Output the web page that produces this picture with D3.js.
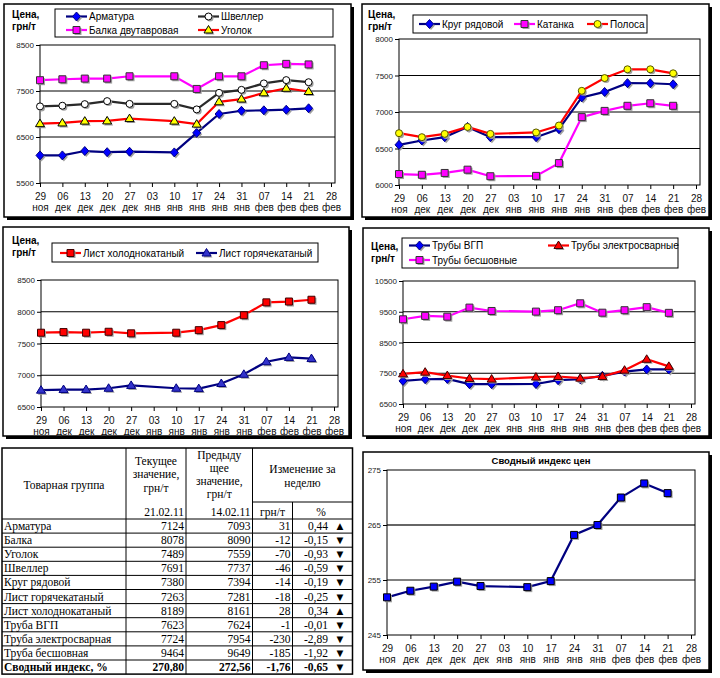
<!DOCTYPE html>
<html>
<head>
<meta charset="utf-8">
<script src="https://cdn.jsdelivr.net/npm/d3@7"></script>
<style>
body { margin: 0; background: #fff; }
text { font-family: "Liberation Sans", Arial, sans-serif; }
</style>
</head>
<body>
<div id="vis"></div>
<script>
var w = 720;
var h = 678;

// подписи оси X (даты, с шагом неделя)
var days = ["29", "06", "13", "20", "27", "03", "10", "17", "24", "31", "07", "14", "21", "28"];
var months = ["ноя", "дек", "дек", "дек", "дек", "янв", "янв", "янв", "янв", "янв", "фев", "фев", "фев", "фев"];

// цены, грн/т (03 янв - нет данных)
var armatura = [6100, 6100, 6195, 6170, 6180, null, 6165, 6590, 7000, 7070, 7080, 7093, 7124];
var shveller = [7165, 7180, 7215, 7280, 7220, null, 7220, 7100, 7460, 7525, 7665, 7737, 7691];
var balka = [7735, 7755, 7770, 7770, 7820, null, 7820, 7545, 7820, 7820, 8060, 8090, 8078];
var ugolok = [6790, 6805, 6845, 6850, 6900, null, 6845, 6780, 7265, 7325, 7460, 7559, 7489];

var krug = [6550, 6610, 6655, 6795, 6655, null, 6655, 6765, 7200, 7275, 7395, 7394, 7380];
var katanka = [6150, 6140, 6165, 6210, 6120, null, 6125, 6300, 6930, 7015, 7085, 7120, 7085];
var polosa = [6710, 6655, 6700, 6795, 6700, null, 6720, 6815, 7290, 7465, 7585, 7585, 7530];

var listHolod = [7670, 7680, 7670, 7685, 7660, null, 7670, 7710, 7790, 7945, 8148, 8161, 8189];
var listGor = [6765, 6775, 6775, 6795, 6840, null, 6795, 6790, 6870, 7015, 7213, 7281, 7263];

var trubyVgp = [7250, 7305, 7315, 7145, 7145, null, 7150, 7275, 7305, 7415, 7555, 7624, 7623];
var trubyEl = [7480, 7535, 7425, 7330, 7310, null, 7375, 7395, 7340, 7395, 7600, 7954, 7724];
var trubyBesh = [9255, 9365, 9340, 9635, 9525, null, 9505, 9550, 9775, 9470, 9550, 9649, 9464];

var indexVals = [251.85, 253.05, 253.8, 254.7, 253.9, null, 253.7, 254.8, 263.2, 265.0, 270.0, 272.56, 270.80];

// таблица
var products = ["Арматура", "Балка", "Уголок", "Швеллер", "Круг рядовой", "Лист горячекатаный", "Лист холоднокатаный", "Труба ВГП", "Труба электросварная", "Труба бесшовная", "Сводный индекс, %"];
var currentVals = ["7124", "8078", "7489", "7691", "7380", "7263", "8189", "7623", "7724", "9464", "270,80"];
var previousVals = ["7093", "8090", "7559", "7737", "7394", "7281", "8161", "7624", "7954", "9649", "272,56"];
var diffAbs = ["31", "-12", "-70", "-46", "-14", "-18", "28", "-1", "-230", "-185", "-1,76"];
var diffPct = ["0,44", "-0,15", "-0,93", "-0,59", "-0,19", "-0,25", "0,34", "-0,01", "-2,89", "-1,92", "-0,65"];

var svg = d3.select("#vis")
    .append("svg")
    .attr("width", w)
    .attr("height", h);

var navy = "#000080", blue = "#0000FF", red = "#FF0000", magenta = "#FF00FF", yellow = "#FFFF00";

//рамка с тенью
function frame(x1, y1, x2, y2) {
	svg.append("rect")
		.attr("x", x1 + 3).attr("y", y1 + 3)
		.attr("width", x2 - x1).attr("height", y2 - y1)
		.attr("fill", "black");
	svg.append("rect")
		.attr("x", x1).attr("y", y1)
		.attr("width", x2 - x1).attr("height", y2 - y1)
		.attr("fill", "white")
		.attr("stroke", "black")
		.attr("stroke-width", 1.5);
}

function markerPath(type, x, y) {
	var s = 4;
	switch (type) {
		case "diamond":
			return "M" + x + "," + (y - s - 0.5) + "L" + (x + s) + "," + y + "L" + x + "," + (y + s + 0.5) + "L" + (x - s) + "," + y + "Z";
		case "square":
			return "M" + (x - 3.5) + "," + (y - 3.5) + "h7v7h-7Z";
		case "triangle":
			return "M" + x + "," + (y - 4.5) + "L" + (x + 4.5) + "," + (y + 3) + "L" + (x - 4.5) + "," + (y + 3) + "Z";
		case "circle":
			return "M" + (x - 3.5) + "," + y + "a3.5,3.5 0 1,0 7,0a3.5,3.5 0 1,0 -7,0Z";
	}
}

function marker(g, s, x, y) {
	g.append("path")
		.attr("d", markerPath(s.marker, x + 1.5, y + 1.5))
		.attr("fill", "#a0a0a0");
	g.append("path")
		.attr("d", markerPath(s.marker, x, y))
		.attr("fill", s.fill)
		.attr("stroke", s.stroke)
		.attr("stroke-width", 1);
}

function label(g, x, y, lines) {
	lines.forEach(function(t, i) {
		g.append("text")
			.text(t)
			.attr("x", x)
			.attr("y", y + i * 12)
			.style("font-size", "10px")
			.style("font-weight", "bold");
	});
}

function chart(cfg) {
	var g = svg.append("g");
	var x = d3.scaleLinear().domain([0, 13]).range([cfg.left, cfg.right - 4]);
	var y = d3.scaleLinear().domain(cfg.ydomain).range([cfg.bottom, cfg.top]);

	//Hulplijnen
	g.selectAll(".grid")
		.data(cfg.grid)
		.enter()
		.append("line")
		.attr("x1", cfg.left)
		.attr("x2", cfg.right)
		.attr("y1", function(d) { return y(d); })
		.attr("y2", function(d) { return y(d); })
		.attr("stroke", function(d) { return cfg.gridColor ? cfg.gridColor(d) : "black"; })
		.attr("stroke-width", function(d) { return cfg.gridWidth ? cfg.gridWidth(d) : 1; });

	g.append("rect")
		.attr("x", cfg.left).attr("y", cfg.top)
		.attr("width", cfg.right - cfg.left).attr("height", cfg.bottom - cfg.top)
		.attr("fill", "none")
		.attr("stroke", "black")
		.attr("stroke-width", 1);

	var yaxis = g.append("g")
		.attr("transform", "translate(" + cfg.left + ",0)")
		.call(d3.axisLeft(y).tickValues(cfg.yticks).tickSize(4).tickPadding(2).tickFormat(d3.format("d")));
	yaxis.select(".domain").remove();
	yaxis.selectAll("text").style("font-size", "8px").attr("fill", "#222");

	var xaxis = g.append("g")
		.attr("transform", "translate(0," + cfg.bottom + ")")
		.call(d3.axisBottom(x).tickValues(d3.range(14)).tickSize(4).tickFormat(function(i) { return days[i]; }));
	xaxis.select(".domain").remove();
	xaxis.selectAll(".tick text")
		.attr("y", 16.5).attr("dy", null)
		.style("font-size", "10px").attr("fill", "#111");
	xaxis.selectAll(".tick")
		.append("text")
		.text(function(i) { return months[i]; })
		.attr("y", 28)
		.attr("fill", "#111")
		.style("font-size", "10px");

	cfg.series.forEach(function(s) {
		var pts = s.values
			.map(function(v, i) { return {i: i, v: v}; })
			.filter(function(d) { return d.v != null; });
		g.append("path")
			.datum(pts)
			.attr("d", d3.line().x(function(d) { return x(d.i); }).y(function(d) { return y(d.v); }))
			.attr("fill", "none")
			.attr("stroke", s.line)
			.attr("stroke-width", 2.2);
		pts.forEach(function(d) { marker(g, s, x(d.i), y(d.v)); });
	});

	if (cfg.legend) {
		var b = cfg.legend.box;
		g.append("rect")
			.attr("x", b[0]).attr("y", b[1])
			.attr("width", b[2] - b[0]).attr("height", b[3] - b[1])
			.attr("fill", "white")
			.attr("stroke", "black")
			.attr("stroke-width", 1);
		cfg.legend.items.forEach(function(it, k) {
			var s = cfg.series[it[0]];
			g.append("line")
				.attr("x1", it[1]).attr("x2", it[1] + 21)
				.attr("y1", it[2]).attr("y2", it[2])
				.attr("stroke", s.line)
				.attr("stroke-width", 2.2);
			marker(g, s, it[1] + 10.5, it[2]);
			g.append("text")
				.text(s.name)
				.attr("x", it[1] + 23)
				.attr("y", it[2] + 3.5)
				.style("font-size", "10px");
		});
	}
	if (cfg.ylabel) label(g, cfg.ylabel[0], cfg.ylabel[1], ["Цена,", "грн/т"]);
	if (cfg.title) {
		g.append("text")
			.text(cfg.title)
			.attr("x", (cfg.left + cfg.right) / 2)
			.attr("y", cfg.titleY)
			.attr("text-anchor", "middle")
			.style("font-size", "9.5px")
			.style("font-weight", "bold");
	}
}

// панель 1
frame(4, 4, 351, 217);
chart({
	left: 40, right: 335, top: 45, bottom: 183,
	ydomain: [5500, 8500], yticks: [5500, 6500, 7500, 8500], grid: [6500, 7500],
	ylabel: [12, 18],
	series: [
		{name: "Арматура", values: armatura, line: navy, marker: "diamond", fill: blue, stroke: navy},
		{name: "Швеллер", values: shveller, line: "#2a2a2a", marker: "circle", fill: "white", stroke: "black"},
		{name: "Балка двутавровая", values: balka, line: magenta, marker: "square", fill: magenta, stroke: "#333"},
		{name: "Уголок", values: ugolok, line: red, marker: "triangle", fill: yellow, stroke: "black"}
	],
	legend: {box: [55, 9, 333, 37], items: [[0, 66, 16.5], [1, 198, 16.5], [2, 66, 30], [3, 198, 30]]}
});

// панель 2
frame(362, 4, 709, 217);
chart({
	left: 399, right: 700, top: 39, bottom: 185,
	ydomain: [6000, 8000], yticks: [6000, 6500, 7000, 7500, 8000], grid: [6500, 7000, 7500],
	ylabel: [368, 18],
	series: [
		{name: "Круг рядовой", values: krug, line: navy, marker: "diamond", fill: blue, stroke: navy},
		{name: "Катанка", values: katanka, line: magenta, marker: "square", fill: magenta, stroke: "#333"},
		{name: "Полоса", values: polosa, line: red, marker: "circle", fill: yellow, stroke: "#555500"}
	],
	legend: {box: [413, 15, 647, 33], items: [[0, 419, 24], [1, 514, 24], [2, 587, 24]]}
});

// панель 3
frame(3, 227, 349, 436);
chart({
	left: 41, right: 338, top: 280, bottom: 407,
	ydomain: [6500, 8500], yticks: [6500, 7000, 7500, 8000, 8500], grid: [7000, 7500, 8000],
	ylabel: [12, 244],
	series: [
		{name: "Лист холоднокатаный", values: listHolod, line: red, marker: "square", fill: red, stroke: "#400000"},
		{name: "Лист горячекатаный", values: listGor, line: navy, marker: "triangle", fill: "#3333CC", stroke: navy}
	],
	legend: {box: [52, 243, 318, 262], items: [[0, 60, 253], [1, 196, 253]]}
});

// панель 4
frame(363, 228, 709, 436);
chart({
	left: 403, right: 695, top: 281, bottom: 404,
	ydomain: [6500, 10500], yticks: [6500, 7500, 8500, 9500, 10500], grid: [7500, 8500, 9500],
	ylabel: [371, 250],
	series: [
		{name: "Трубы ВГП", values: trubyVgp, line: navy, marker: "diamond", fill: blue, stroke: navy},
		{name: "Трубы электросварные", values: trubyEl, line: red, marker: "triangle", fill: red, stroke: "#400000"},
		{name: "Трубы бесшовные", values: trubyBesh, line: magenta, marker: "square", fill: magenta, stroke: "#333"}
	],
	legend: {box: [402, 238, 678, 268], items: [[0, 409, 245.5], [1, 548, 245.5], [2, 409, 260]]}
});

// панель 5
frame(363, 452, 709, 670);
chart({
	left: 387, right: 695, top: 470, bottom: 635,
	ydomain: [245, 275], yticks: [245, 255, 265, 275], grid: [255, 265],
	gridColor: function(d) { return d == 265 ? "#666" : "black"; },
	gridWidth: function(d) { return d == 265 ? 1.8 : 1; },
	title: "Сводный индекс цен", titleY: 464,
	series: [
		{name: "Сводный индекс", values: indexVals, line: navy, marker: "square", fill: blue, stroke: "black"}
	]
});

// таблица
var tbl = svg.append("g")
	.style("font-family", "'Liberation Serif','Times New Roman',serif")
	.style("font-size", "11.5px");
var cx = [2, 126, 186, 252.5, 292.5, 352.5];
var tTop = 448, hMid = 502, rowTop = 519, rowH = 14.1;
var tBottom = rowTop + products.length * rowH;

function tline(x1, y1, x2, y2, sw) {
	tbl.append("line")
		.attr("x1", x1).attr("y1", y1).attr("x2", x2).attr("y2", y2)
		.attr("stroke", "black").attr("stroke-width", sw || 1);
}
function ttext(t, x, y, anchor, bold) {
	tbl.append("text")
		.text(t)
		.attr("x", x).attr("y", y)
		.attr("text-anchor", anchor || "start")
		.style("font-family", "'Liberation Serif','Times New Roman',serif")
		.style("font-weight", bold ? "bold" : "normal");
}

tbl.append("rect")
	.attr("x", cx[0]).attr("y", tTop)
	.attr("width", cx[5] - cx[0]).attr("height", tBottom - tTop)
	.attr("fill", "white").attr("stroke", "black").attr("stroke-width", 1.5);
[1, 2, 3].forEach(function(k) { tline(cx[k], tTop, cx[k], tBottom); });
tline(cx[4], hMid, cx[4], tBottom);
tline(cx[3], hMid, cx[5], hMid);
for (var k = 0; k < products.length; k++) {
	tline(cx[0], rowTop + k * rowH, cx[5], rowTop + k * rowH);
}

ttext("Товарная группа", (cx[0] + cx[1]) / 2, 489, "middle");
["Текущее", "значение,", "грн/т"].forEach(function(t, i) { ttext(t, (cx[1] + cx[2]) / 2, 465 + i * 13.3, "middle"); });
["Предыду", "щее", "значение,", "грн/т"].forEach(function(t, i) { ttext(t, (cx[2] + cx[3]) / 2, 458.5 + i * 13.3, "middle"); });
["Изменение за", "неделю"].forEach(function(t, i) { ttext(t, (cx[3] + cx[5]) / 2, 473 + i * 13.5, "middle"); });
ttext("21.02.11", cx[2] - 2, 515.5, "end");
ttext("14.02.11", cx[3] - 2, 515.5, "end");
ttext("грн/т", (cx[3] + cx[4]) / 2, 515.5, "middle");
ttext("%", 321, 515.5, "middle");

products.forEach(function(p, i) {
	var yy = rowTop + i * rowH + rowH / 2 + 4;
	var bold = i == products.length - 1;
	ttext(p, cx[0] + 2, yy, "start", bold);
	ttext(currentVals[i], cx[2] - 2, yy, "end", bold);
	ttext(previousVals[i], cx[3] - 2, yy, "end", bold);
	ttext(diffAbs[i], cx[4] - 2, yy, "end", bold);
	ttext(diffPct[i], 328, yy, "end", bold);
	ttext(diffPct[i].charAt(0) == "-" ? "▼" : "▲", 340, yy, "middle", false);
});
</script>
</body>
</html>
